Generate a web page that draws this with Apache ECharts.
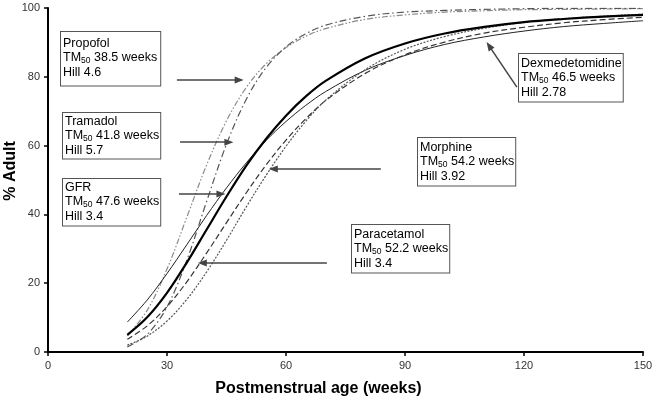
<!DOCTYPE html>
<html>
<head>
<meta charset="utf-8">
<script src="https://cdn.jsdelivr.net/npm/echarts@6/dist/echarts.min.js"></script>
<style>
  html, body { margin: 0; padding: 0; background: #fff; }
  #chart { width: 660px; height: 398px; }
</style>
</head>
<body>
<div id="chart"></div>
<script>
// postmenstrual age (weeks)
var weeks = [20, 25, 30, 35, 40, 45, 50, 55, 60, 65, 70, 80, 90, 100, 110, 120, 130, 140, 150];

// % adult
var propofol    = [4.7, 12.1, 24.1, 39.2, 54.4, 67.2, 76.9, 83.8, 88.5, 91.8, 94.0, 96.7, 98.0, 98.8, 99.2, 99.5, 99.6, 99.7, 99.8];
var tramadol    = [1.5, 5.1, 13.1, 26.7, 43.8, 60.4, 73.5, 82.7, 88.7, 92.5, 95.0, 97.6, 98.8, 99.3, 99.6, 99.8, 99.9, 99.9, 99.9];
var gfr         = [5.0, 10.1, 17.2, 26.0, 35.6, 45.2, 54.2, 62.0, 68.7, 74.3, 78.8, 85.4, 89.7, 92.6, 94.5, 95.9, 96.8, 97.5, 98.0];
var dexmed      = [8.7, 15.1, 22.8, 31.2, 39.7, 47.7, 55.0, 61.5, 67.0, 71.7, 75.7, 81.9, 86.2, 89.4, 91.6, 93.3, 94.6, 95.5, 96.3];
var morphine    = [2.0, 4.6, 9.0, 15.3, 23.3, 32.5, 42.2, 51.4, 59.8, 67.1, 73.2, 82.1, 88.0, 91.7, 94.1, 95.8, 96.9, 97.6, 98.2];
var paracetamol = [3.7, 7.6, 13.2, 20.4, 28.8, 37.6, 46.3, 54.4, 61.6, 67.8, 73.1, 81.0, 86.4, 90.1, 92.7, 94.4, 95.7, 96.6, 97.3];

var xTicks = [0, 30, 60, 90, 120, 150];
var yTicks = [0, 20, 40, 60, 80, 100];

// label boxes: name, TM50, Hill
var labels = [
  { name: 'Propofol', tm: '38.5', hill: '4.6' },
  { name: 'Tramadol', tm: '41.8', hill: '5.7' },
  { name: 'GFR', tm: '47.6', hill: '3.4' },
  { name: 'Paracetamol', tm: '52.2', hill: '3.4' },
  { name: 'Morphine', tm: '54.2', hill: '3.92' },
  { name: 'Dexmedetomidine', tm: '46.5', hill: '2.78' }
];

// arrows in data units: [fromX, fromY, toX, toY]
var arrows = [
  [32.5, 79.1, 48.2, 79.1],
  [33.3, 61.0, 45.6, 61.0],
  [33.0, 45.9, 43.6, 45.9],
  [70.3, 25.9, 38.9, 25.9],
  [83.9, 53.2, 56.8, 53.2],
  [118.2, 77.0, 111.2, 89.0]
];

function pairs(ys) {
  return weeks.map(function (w, i) { return [w, ys[i]]; });
}

var font = 'Liberation Sans, Arial, sans-serif';

function curve(name, ys, color, width, type) {
  return {
    name: name,
    type: 'line',
    data: pairs(ys),
    smooth: 0.35,
    symbol: 'none',
    silent: true,
    lineStyle: { color: color, width: width, type: type }
  };
}

var series = [
  curve('Propofol', propofol, '#8a8a8a', 1.2, [6, 2, 1.5, 2, 1.5, 2]),
  curve('Tramadol', tramadol, '#555', 1.2, [7, 3, 1.5, 3]),
  curve('Dexmedetomidine', dexmed, '#222', 1, 'solid'),
  curve('Paracetamol', paracetamol, '#333', 1.2, [6, 3]),
  curve('Morphine', morphine, '#555', 1.2, [2, 1.5]),
  curve('GFR', gfr, '#000', 2.2, 'solid')
];

series[5].markLine = {
  silent: true,
  symbol: ['none', 'triangle'],
  symbolSize: [7, 9],
  label: { show: false },
  lineStyle: { color: '#444', width: 1.5, type: 'solid' },
  data: arrows.map(function (a) {
    return [{ coord: [a[0], a[1]] }, { coord: [a[2], a[3]] }];
  })
};

function boxText(l) {
  return '{n|' + l.name + '}\n{t|TM}{s|50}{t| ' + l.tm + ' weeks}\n{t|Hill ' + l.hill + '}';
}

var boxRich = {
  n: { fontSize: 12.5, fontFamily: font, color: '#000', lineHeight: 14.5 },
  t: { fontSize: 12.5, fontFamily: font, color: '#000', lineHeight: 14.5 },
  s: { fontSize: 8.5, fontFamily: font, color: '#000', lineHeight: 14.5, padding: [6, 0, 0, 0] }
};

// box top-left corners in pixels and inner padding
var boxPos = [[60, 31], [62, 112], [62, 178], [351, 224], [417, 137], [518, 53]];
var boxPad = [[4, 3, 6, 2], [1, 1, 1, 2], [1, 1, 2, 2], [2, 1, 2, 2], [2, 1, 2, 2], [2, 1, 2, 2]];

var graphics = labels.map(function (l, i) {
  return {
    type: 'text',
    left: boxPos[i][0],
    top: boxPos[i][1],
    z: 10,
    style: {
      text: boxText(l),
      rich: boxRich,
      fill: '#000',
      backgroundColor: '#fff',
      borderColor: '#555',
      borderWidth: 1,
      padding: boxPad[i]
    }
  };
});

// y axis title
graphics.push({
  type: 'text',
  x: 11,
  y: 171,
  rotation: Math.PI / 2,
  style: {
    text: '% Adult',
    font: 'bold 16px ' + font,
    fill: '#000',
    align: 'center',
    verticalAlign: 'middle'
  }
});

var chart = echarts.init(document.getElementById('chart'));
chart.setOption({
  animation: false,
  backgroundColor: '#fff',
  grid: { left: 48, right: 17, top: 8, bottom: 46, containLabel: false, outerBoundsMode: 'none' },
  xAxis: {
    type: 'value',
    min: 0, max: 150, interval: 30,
    name: 'Postmenstrual age (weeks)',
    nameLocation: 'middle',
    nameGap: 29,
    nameTextStyle: { fontSize: 16, fontWeight: 'bold', fontFamily: font, color: '#000', padding: [0, 54, 0, 0] },
    axisLine: { lineStyle: { color: '#000', width: 2 } },
    axisTick: { show: true, length: 4, lineStyle: { color: '#000', width: 1.5 } },
    axisLabel: {
      fontSize: 11, fontFamily: font, color: '#333', margin: 8,
      formatter: function (v) { return xTicks.indexOf(v) >= 0 ? String(v) : ''; }
    },
    splitLine: { show: false }
  },
  yAxis: {
    type: 'value',
    min: 0, max: 100, interval: 20,
    axisLine: { show: true, lineStyle: { color: '#000', width: 2 } },
    axisTick: { show: true, length: 4, lineStyle: { color: '#000', width: 1.5 } },
    axisLabel: {
      fontSize: 11, fontFamily: font, color: '#333', margin: 8,
      formatter: function (v) { return yTicks.indexOf(v) >= 0 ? String(v) : ''; }
    },
    splitLine: { show: false }
  },
  series: series,
  graphic: graphics
});
</script>
</body>
</html>
